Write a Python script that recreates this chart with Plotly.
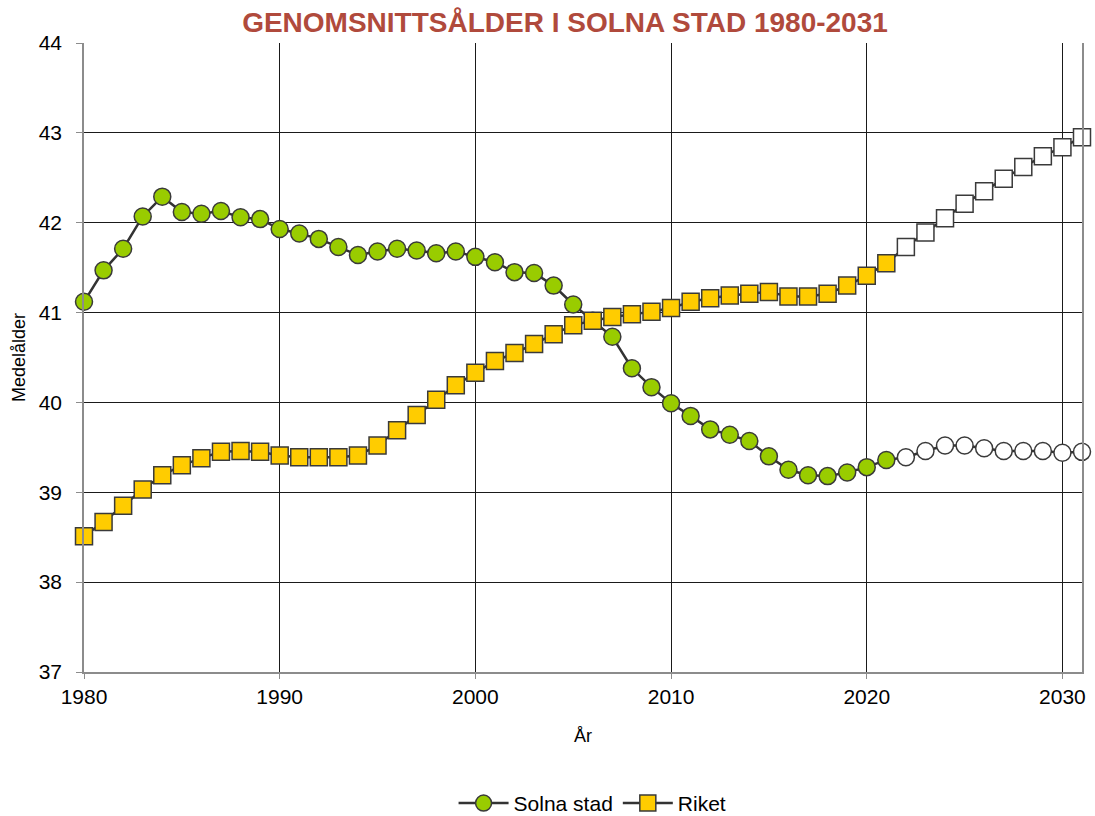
import plotly.graph_objects as go

years = list(range(1980, 2032))
solna = [41.12, 41.47, 41.71, 42.07, 42.29, 42.12, 42.10, 42.13, 42.06, 42.04,
         41.93, 41.88, 41.82, 41.73, 41.64, 41.68, 41.71, 41.69, 41.66, 41.68,
         41.62, 41.56, 41.45, 41.44, 41.30, 41.09, 40.91, 40.73, 40.38, 40.17,
         39.99, 39.85, 39.70, 39.64, 39.57, 39.40, 39.25, 39.19, 39.18, 39.22,
         39.28, 39.36, 39.39, 39.46, 39.52, 39.52, 39.49, 39.46, 39.46, 39.46,
         39.44, 39.45]
riket = [38.51, 38.67, 38.85, 39.03, 39.19, 39.30, 39.38, 39.45, 39.46, 39.45,
         39.41, 39.39, 39.39, 39.39, 39.41, 39.52, 39.69, 39.86, 40.03, 40.19,
         40.33, 40.46, 40.55, 40.65, 40.76, 40.86, 40.91, 40.95, 40.98, 41.01,
         41.05, 41.12, 41.16, 41.19, 41.21, 41.23, 41.18, 41.18, 41.21, 41.30,
         41.41, 41.55, 41.73, 41.89, 42.05, 42.21, 42.35, 42.49, 42.62, 42.74,
         42.84, 42.95]
first_projection_year = 2022
x_ticks = [1980, 1990, 2000, 2010, 2020, 2030]
y_ticks = [37, 38, 39, 40, 41, 42, 43, 44]

GREEN = "#99CC00"
YELLOW = "#FFCC00"
LINE = "#333333"

solna_fill = [GREEN if y < first_projection_year else "white" for y in years]
riket_fill = [YELLOW if y < first_projection_year else "white" for y in years]

fig = go.Figure()
fig.add_trace(go.Scatter(
    x=years, y=solna, name="Solna stad", mode="lines+markers",
    line=dict(color=LINE, width=2.5),
    marker=dict(symbol="circle", size=17, color=solna_fill,
                line=dict(color="#3a3a3a", width=1.5)),
    cliponaxis=False,
))
fig.add_trace(go.Scatter(
    x=years, y=riket, name="Riket", mode="lines+markers",
    line=dict(color=LINE, width=2.5),
    marker=dict(symbol="square", size=17, color=riket_fill,
                line=dict(color="#3a3a3a", width=1.5)),
    cliponaxis=False,
))

FONT = "Liberation Sans, Arial, sans-serif"
tick_font = dict(family=FONT, size=21, color="black")

fig.update_layout(
    width=1095, height=816,
    paper_bgcolor="white", plot_bgcolor="white",
    margin=dict(l=84, r=13, t=43, b=144, autoexpand=False),
    title=dict(text="<b>GENOMSNITTSÅLDER I SOLNA STAD 1980-2031</b>",
               x=565/1095, xanchor="center", xref="container",
               y=1 - 22/816, yanchor="middle", yref="container",
               font=dict(family=FONT, size=28, color="#B04A3C")),
    xaxis=dict(range=[1980, 2031], tickvals=x_ticks, showgrid=True,
               gridcolor="#1a1a1a", gridwidth=1, automargin=False,
               showline=True, linecolor="#8c8c8c", linewidth=1.5,
               ticks="outside", ticklen=5, tickcolor="#8c8c8c",
               tickfont=tick_font, zeroline=False,
               title=dict(text="År", font=dict(family=FONT, size=18, color="black"),
                          standoff=22)),
    yaxis=dict(range=[37, 44], tickvals=y_ticks, showgrid=True,
               gridcolor="#1a1a1a", gridwidth=1, automargin=False,
               showline=True, linecolor="#8c8c8c", linewidth=1.5, mirror=True,
               ticks="outside", ticklen=6, tickcolor="#8c8c8c",
               ticklabelstandoff=10,
               tickfont=tick_font, zeroline=False,
               title=dict(text="Medelålder", font=dict(family=FONT, size=18, color="black"),
                          standoff=8)),
    legend=dict(orientation="h", x=558/1095, xanchor="center", y=-0.209, yanchor="middle",
                font=dict(family=FONT, size=21, color="black"),
                itemwidth=50),
    showlegend=True,
)

fig.write_html("out.html", post_script="document.body.style.margin='0';",
               config={"displayModeBar": False})
